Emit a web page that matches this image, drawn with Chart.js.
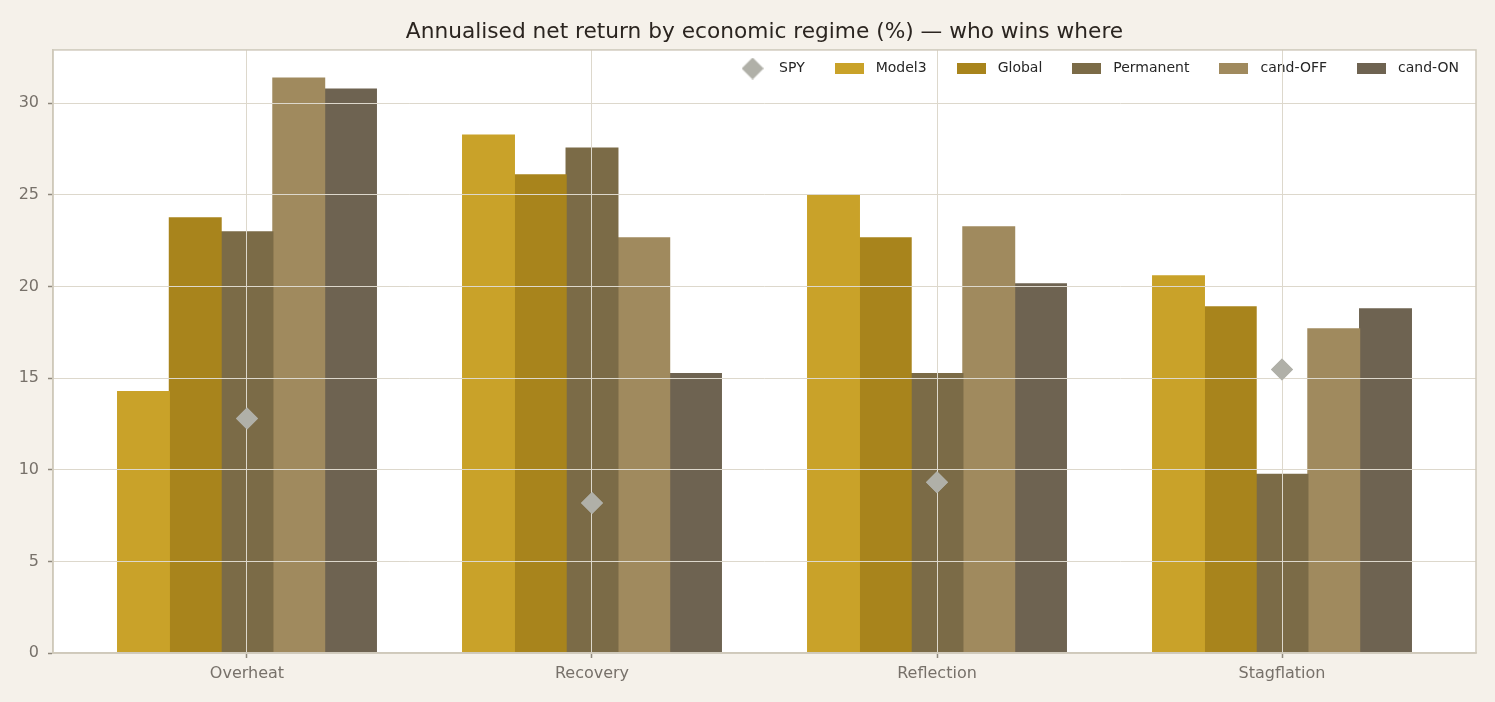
<!DOCTYPE html>
<html><head><meta charset="utf-8">
<script src="https://cdn.jsdelivr.net/npm/chart.js@4.4.1/dist/chart.umd.min.js"></script>
<style>html,body{margin:0;padding:0;background:#f5f1ea;}#wrap{width:1495px;height:702px;}</style>
</head><body><div id="wrap"><canvas id="c" width="1495" height="702"></canvas></div>
<script>
const categories = ['Overheat', 'Recovery', 'Reflection', 'Stagflation'];
const spyValues = [12.79, 8.18, 9.31, 15.47];
const model3Values = [14.26, 28.26, 24.99, 20.58];
const globalValues = [23.74, 26.08, 22.65, 18.89];
const permanentValues = [22.98, 27.55, 15.24, 9.74];
const candOffValues = [31.36, 22.65, 23.25, 17.69];
const candOnValues = [30.76, 15.24, 20.14, 18.78];
const seriesLabels = ['SPY', 'Model3', 'Global', 'Permanent', 'cand-OFF', 'cand-ON'];
const seriesColors = ['#b0b0a8', '#c9a229', '#a8841c', '#7b6b47', '#a08a5e', '#6e6351'];
const yMax = 32.9;
const yStep = 5;
const xMin = -0.5623;
const xMax = 3.5623;

const FONT = 'DejaVu Sans';
const GRID = '#ddd8cc';
const TICKC = '#8f887c';
const LABELC = '#77716a';

function rectIcon(color) {
  const c = document.createElement('canvas'); c.width = 29; c.height = 11;
  const g = c.getContext('2d'); g.fillStyle = color; g.fillRect(0, 0, 29, 11); return c;
}
function diamondIcon(color) {
  const c = document.createElement('canvas'); c.width = 22; c.height = 22;
  const g = c.getContext('2d'); g.fillStyle = color;
  g.beginPath(); g.moveTo(11, 0); g.lineTo(22, 11); g.lineTo(11, 22); g.lineTo(0, 11); g.closePath(); g.fill(); return c;
}
const legendIcons = seriesColors.map((col, i) => i === 0 ? diamondIcon(col) : rectIcon(col));

const toPoints = vals => vals.map((v, i) => ({ x: i, y: v }));
const barSeries = [model3Values, globalValues, permanentValues, candOffValues, candOnValues];
const datasets = [{
  type: 'line', label: seriesLabels[0], data: toPoints(spyValues), showLine: false,
  pointStyle: 'rectRot', pointRadius: 11, pointHoverRadius: 11, pointBorderWidth: 0,
  backgroundColor: seriesColors[0], borderColor: seriesColors[0]
}].concat(barSeries.map((vals, i) => ({
  type: 'bar', label: seriesLabels[i + 1], data: toPoints(vals),
  backgroundColor: seriesColors[i + 1], borderWidth: 0, inflateAmount: 0.6,
  categoryPercentage: 0.75, barPercentage: 1.0
})));

const framePlugin = {
  id: 'frame',
  beforeDraw(chart) {
    const { ctx, chartArea: a } = chart;
    ctx.save();
    ctx.fillStyle = '#f5f1ea'; ctx.fillRect(0, 0, chart.width, chart.height);
    ctx.fillStyle = '#ffffff'; ctx.fillRect(a.left, a.top, a.right - a.left, a.bottom - a.top);
    ctx.restore();
  },
  afterLayout(chart) {
    const lg = chart.legend;
    if (lg) { lg.top = 36.5; lg.bottom = 95; lg.height = 58.5; lg.right = 1484; lg.left = 0; lg.width = 1484; }
  },
  afterDraw(chart) {
    const { ctx, chartArea: a } = chart;
    chart.getDatasetMeta(0).controller.draw();
    ctx.save();
    ctx.strokeStyle = '#cfc9bb'; ctx.lineWidth = 1.5;
    ctx.strokeRect(a.left, a.top, a.right - a.left, a.bottom - a.top);
    ctx.restore();
  }
};

new Chart(document.getElementById('c'), {
  data: { datasets },
  plugins: [framePlugin],
  options: {
    responsive: false, animation: false, devicePixelRatio: 1,
    layout: { padding: { top: 10, right: 19, bottom: 0, left: 0 } },
    plugins: {
      title: { display: true, fullSize: false, text: 'Annualised net return by economic regime (%) — who wins where',
        font: { family: FONT, size: 21.7, weight: 'normal' }, color: '#2b2520', padding: { top: 9, bottom: 3.9 } },
      legend: {
        position: 'top', align: 'end', maxHeight: 1,
        labels: {
          usePointStyle: true, pointStyleWidth: 39, padding: 25, color: '#262626',
          font: { family: FONT, size: 14 },
          generateLabels(chart) {
            return chart.data.datasets.map((ds, i) => ({
              text: ds.label, fillStyle: ds.backgroundColor, strokeStyle: ds.backgroundColor,
              lineWidth: 0, hidden: !chart.isDatasetVisible(i), datasetIndex: i,
              pointStyle: legendIcons[i], fontColor: '#262626'
            }));
          }
        }
      },
      tooltip: { enabled: false }
    },
    scales: {
      x: {
        type: 'linear', min: xMin, max: xMax, offset: false,
        grid: { z: 1, offset: false, color: GRID, lineWidth: 1, tickColor: TICKC, tickLength: 5, tickWidth: 1.5 },
        border: { z: 2, color: '#cfc9bb', width: 1.5 },
        ticks: { stepSize: 1, includeBounds: false, autoSkip: false, maxRotation: 0,
          font: { family: FONT, size: 16 }, color: LABELC, padding: 6,
          callback: v => categories[v] !== undefined ? categories[v] : '' },
        afterBuildTicks(s) { s.ticks = categories.map((_, i) => ({ value: i })); },
        afterFit(s) { s.height = 49; }
      },
      y: {
        type: 'linear', min: 0, max: yMax,
        grid: { z: 1, color: GRID, lineWidth: 1, tickColor: TICKC, tickLength: 5, tickWidth: 1.5 },
        border: { z: 2, color: '#cfc9bb', width: 1.5 },
        ticks: { stepSize: yStep, includeBounds: false, font: { family: FONT, size: 16 }, color: LABELC, padding: 9 },
        afterFit(s) { s.width = 53; }
      }
    }
  }
});
</script></body></html>
